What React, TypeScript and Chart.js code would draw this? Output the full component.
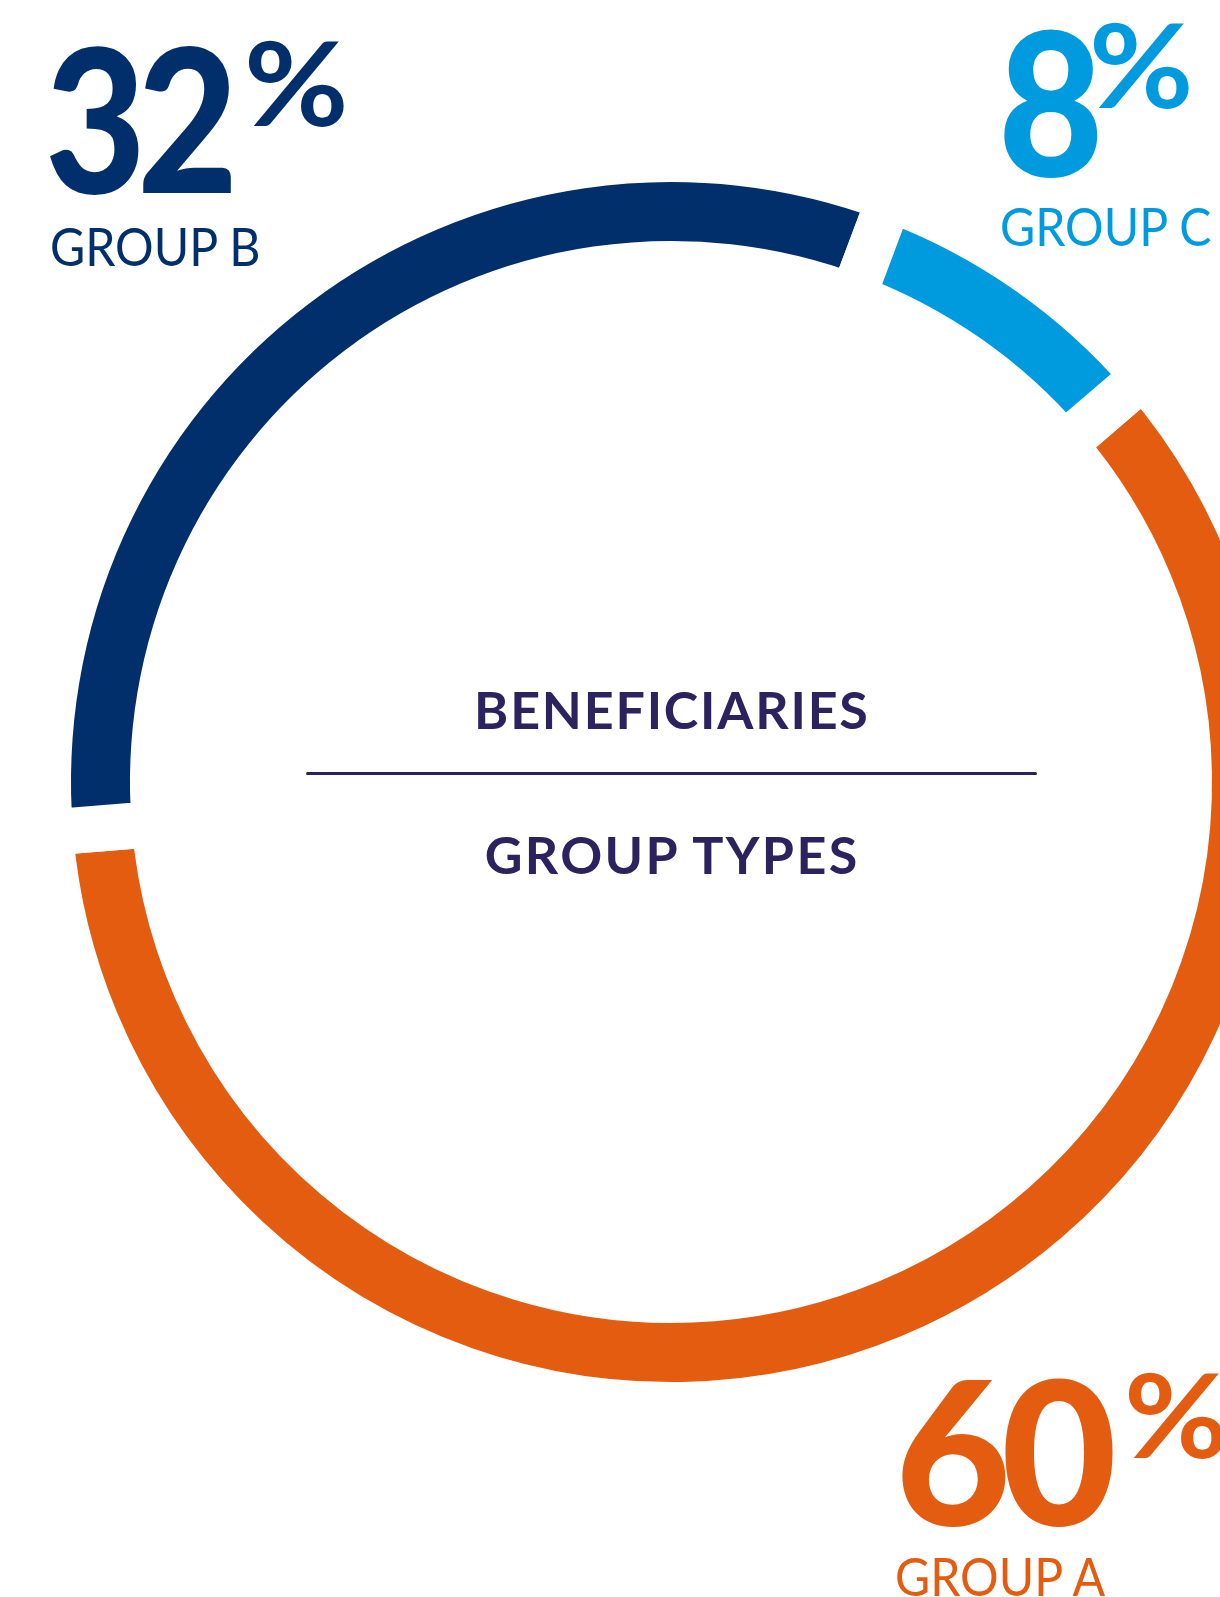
import React, { useEffect, useRef } from "react";
import { Chart, registerables } from "chart.js";

Chart.register(...registerables);

// ---- data ----
const categories = ["GROUP A", "GROUP B", "GROUP C"];
const shares = [60, 32, 8];
const percentLabels = ["60", "32", "8"];
const centerTitle = "BENEFICIARIES";
const centerSubtitle = "GROUP TYPES";

// ---- styles ----
const colors = ["#E45C10", "#002F6B", "#009ADE"];
const centerColor = "#2C225E";
const FONT = "Lato, 'Open Sans', sans-serif";
const CAP = 0.17; // cap-top offset (em) with line-height 1

// layout for the big labels (index matches categories)
const labelLayout = [
  { numX: 895, numTop: 1382, numScale: 1.0, pctX: 1124, pctTop: 1376, grpX: 895, grpTop: 1558 },
  { numX: 45, numTop: 50, numScale: 0.87, pctX: 244, pctTop: 44, grpX: 50, grpTop: 228 },
  { numX: 998, numTop: 33, numScale: 0.91, pctX: 1089, pctTop: 26, grpX: 1000, grpTop: 208 },
];

const CX = 671;
const CY = 782;
const CANVAS = 1400;

function Txt(props: {
  x: number;
  capTop: number;
  size: number;
  weight: number;
  color: string;
  spacing?: string;
  scaleX?: number;
  children: React.ReactNode;
}) {
  const { x, capTop, size, weight, color, spacing, scaleX, children } = props;
  return (
    <div
      style={{
        position: "absolute",
        left: x,
        top: capTop - CAP * size,
        fontSize: size,
        lineHeight: 1,
        fontWeight: weight,
        color,
        fontFamily: FONT,
        whiteSpace: "nowrap",
        letterSpacing: spacing,
        transform: scaleX ? `scaleX(${scaleX})` : undefined,
        transformOrigin: "left top",
        zIndex: 2,
      }}
    >
      {children}
    </div>
  );
}

export default function App() {
  const ref = useRef<HTMLCanvasElement | null>(null);

  useEffect(() => {
    if (!ref.current) return;
    const chart = new Chart(ref.current, {
      type: "doughnut",
      data: {
        labels: categories,
        datasets: [
          {
            data: shares,
            backgroundColor: colors,
            borderColor: "#ffffff",
            borderWidth: 46,
            hoverOffset: 0,
          },
        ],
      },
      options: {
        animation: false,
        responsive: false,
        maintainAspectRatio: false,
        events: [],
        rotation: 49.35,
        radius: 623,
        cutout: "83.15%",
        layout: { padding: 0 },
        plugins: {
          legend: { display: false },
          tooltip: { enabled: false },
        },
      } as any,
    });
    return () => chart.destroy();
  }, []);

  const centerStyle = (capTop: number, spacing: number): React.CSSProperties => ({
    position: "absolute",
    left: CX - 400 + spacing / 2,
    width: 800,
    top: capTop - CAP * 52,
    textAlign: "center",
    fontFamily: FONT,
    fontWeight: 700,
    fontSize: 52,
    lineHeight: 1,
    letterSpacing: spacing,
    color: centerColor,
    zIndex: 2,
  });

  return (
    <div
      style={{
        position: "absolute",
        left: 0,
        top: 0,
        width: 1220,
        height: 1597,
        overflow: "hidden",
        background: "#ffffff",
      }}
    >
      <canvas
        ref={ref}
        width={CANVAS}
        height={CANVAS}
        style={{
          position: "absolute",
          left: CX - CANVAS / 2,
          top: CY - CANVAS / 2,
          width: CANVAS,
          height: CANVAS,
          zIndex: 1,
        }}
      />
      {categories.map((cat, i) => {
        const L = labelLayout[i];
        return (
          <React.Fragment key={cat}>
            <Txt
              x={L.numX}
              capTop={L.numTop}
              size={200}
              weight={900}
              color={colors[i]}
              spacing="-0.05em"
              scaleX={L.numScale}
            >
              {percentLabels[i]}
            </Txt>
            <Txt x={L.pctX} capTop={L.pctTop} size={116} weight={700} color={colors[i]} scaleX={1.1}>
              %
            </Txt>
            <Txt x={L.grpX} capTop={L.grpTop} size={53} weight={400} color={colors[i]} scaleX={0.91}>
              {cat}
            </Txt>
          </React.Fragment>
        );
      })}
      <div style={centerStyle(692, 1.8)}>{centerTitle}</div>
      <div
        style={{
          position: "absolute",
          left: 306,
          top: 772,
          width: 731,
          height: 3,
          borderRadius: 2,
          background: centerColor,
          zIndex: 2,
        }}
      />
      <div style={centerStyle(837, 2.4)}>{centerSubtitle}</div>
    </div>
  );
}
